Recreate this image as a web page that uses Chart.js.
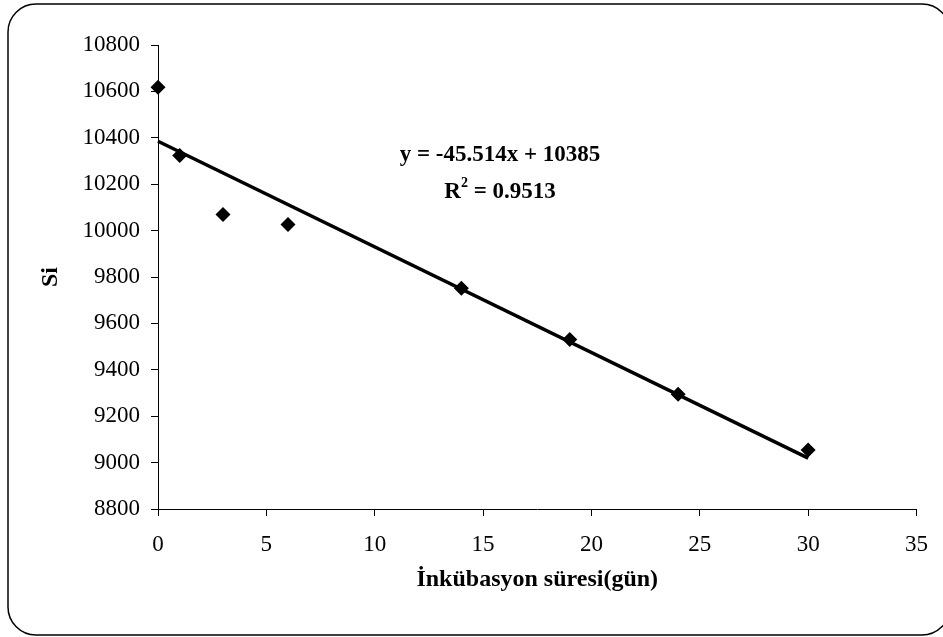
<!DOCTYPE html>
<html>
<head>
<meta charset="utf-8">
<script src="https://cdn.jsdelivr.net/npm/chart.js@4"></script>
<style>
    html, body { margin: 0; padding: 0; background: #fff; }
    #wrap { position: relative; width: 943px; height: 637px; }
</style>
</head>
<body>
<div id="wrap"><canvas id="siChart" width="943" height="637"></canvas></div>
<script>
// Incubation days and measured Si values
const days = [0, 1, 3, 6, 14, 19, 24, 30];
const siValues = [10618, 10324, 10069, 10026, 9751, 9531, 9295, 9054];
const yTicks = [8800, 9000, 9200, 9400, 9600, 9800, 10000, 10200, 10400, 10600, 10800];
const xTicks = [0, 5, 10, 15, 20, 25, 30, 35];

// Trendline as printed on the chart
const trendSlope = -45.514;
const trendIntercept = 10385;
const trendRange = [0, 30];

const serif = '"Liberation Serif", "Times New Roman", serif';

// Rounded frame round the whole chart
const framePlugin = {
    id: 'frame',
    beforeDraw(chart) {
        const ctx = chart.ctx;
        ctx.save();
        ctx.strokeStyle = '#000';
        ctx.lineWidth = 1.5;
        ctx.beginPath();
        ctx.roundRect(8, 4, 942, 631, 28);
        ctx.stroke();
        ctx.restore();
    }
};

// Equation and R² text
const equationPlugin = {
    id: 'equation',
    afterDraw(chart) {
        const ctx = chart.ctx;
        ctx.save();
        ctx.fillStyle = '#000';
        ctx.textBaseline = 'alphabetic';
        ctx.font = 'bold 23px ' + serif;
        ctx.textAlign = 'center';
        ctx.fillText('y = -45.514x + 10385', 500, 161);

        // R² line with a raised 2
        ctx.textAlign = 'left';
        const big = 'bold 23px ' + serif;
        const small = 'bold 14px ' + serif;
        ctx.font = big;
        const wR = ctx.measureText('R').width;
        const wRest = ctx.measureText(' = 0.9513').width;
        ctx.font = small;
        const w2 = ctx.measureText('2').width;
        let x = 500 - (wR + w2 + wRest) / 2;
        ctx.font = big;
        ctx.fillText('R', x, 198);
        x += wR;
        ctx.font = small;
        ctx.fillText('2', x, 187);
        x += w2;
        ctx.font = big;
        ctx.fillText(' = 0.9513', x, 198);
        ctx.restore();
    }
};

const points = days.map((d, i) => ({ x: d, y: siValues[i] }));
const trendPoints = trendRange.map(d => ({ x: d, y: trendSlope * d + trendIntercept }));

new Chart(document.getElementById('siChart'), {
    type: 'scatter',
    data: {
        datasets: [
            {
                label: 'Si',
                data: points,
                clip: false,
                pointStyle: 'rectRot',
                pointRadius: 7.5,
                pointHoverRadius: 7.5,
                backgroundColor: '#000',
                borderColor: '#000',
                borderWidth: 0
            },
            {
                label: 'Trend',
                data: trendPoints,
                clip: false,
                showLine: true,
                pointRadius: 0,
                borderColor: '#000',
                borderWidth: 3.5
            }
        ]
    },
    options: {
        responsive: false,
        animation: false,
        events: [],
        layout: {
            padding: { left: 0, top: 45, right: 24, bottom: 0 }
        },
        plugins: {
            legend: { display: false },
            tooltip: { enabled: false }
        },
        scales: {
            x: {
                type: 'linear',
                min: 0,
                max: 35,
                afterBuildTicks: axis => { axis.ticks = xTicks.map(v => ({ value: v })); },
                afterFit: axis => { axis.height = 128; },
                grid: { drawOnChartArea: false, drawTicks: true, tickLength: 7, color: '#000' },
                border: { color: '#000', width: 1 },
                ticks: {
                    color: '#000',
                    padding: 15,
                    font: { family: serif, size: 23 }
                },
                title: {
                    display: true,
                    text: 'İnkübasyon süresi(gün)',
                    color: '#000',
                    font: { family: serif, size: 24, weight: 'bold' },
                    padding: { top: 0, bottom: 43 }
                }
            },
            y: {
                type: 'linear',
                min: 8800,
                max: 10800,
                afterBuildTicks: axis => { axis.ticks = yTicks.map(v => ({ value: v })); },
                afterFit: axis => { axis.width = 158; },
                grid: { drawOnChartArea: false, drawTicks: true, tickLength: 7, color: '#000' },
                border: { color: '#000', width: 1 },
                ticks: {
                    color: '#000',
                    padding: 11,
                    font: { family: serif, size: 23 },
                    callback: v => String(v)
                },
                title: {
                    display: true,
                    text: 'Si',
                    color: '#000',
                    font: { family: serif, size: 24, weight: 'bold' },
                    padding: { top: 36, bottom: 0 }
                }
            }
        }
    },
    plugins: [framePlugin, equationPlugin]
});
</script>
</body>
</html>
